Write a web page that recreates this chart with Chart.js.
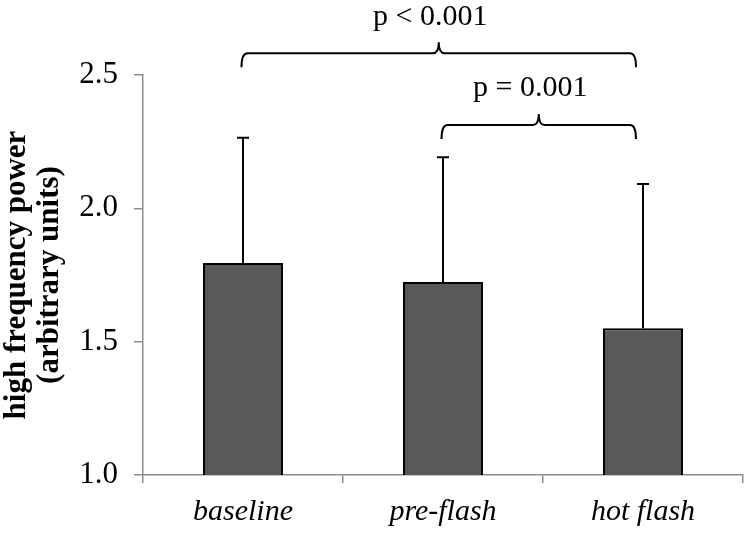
<!DOCTYPE html>
<html>
<head>
<meta charset="utf-8">
<script src="https://cdn.jsdelivr.net/npm/chart.js@4/dist/chart.umd.min.js"></script>
<style>
  html, body { margin: 0; padding: 0; background: #ffffff; }
  canvas { display: block; }
</style>
</head>
<body>
<canvas id="c" width="750" height="533"></canvas>
<script>
// ---- data ----
const categories = ['baseline', 'pre-flash', 'hot flash'];
const meanValues = [1.795, 1.724, 1.55];
const errorPlus = [0.470, 0.468, 0.541];
const yTickValues = [1.0, 1.5, 2.0, 2.5];
const yTitleLines = ['high frequency power', '(arbitrary units)'];
const bracketFrom = [0, 1];
const bracketTo = [2, 2];
const bracketLevel = [2.582, 2.3125];
const bracketLabels = ['p < 0.001', 'p = 0.001'];

const SERIF = '"Liberation Serif", "Times New Roman", serif';

const errorBarPlugin = {
  id: 'errorBars',
  afterDatasetsDraw(chart) {
    const ctx = chart.ctx;
    const meta = chart.getDatasetMeta(0);
    const y = chart.scales.y;
    ctx.save();
    ctx.strokeStyle = '#000000';
    ctx.lineWidth = 2;
    meta.data.forEach((bar, i) => {
      const x = bar.x;
      const yTop = y.getPixelForValue(meanValues[i] + errorPlus[i]);
      const yBase = y.getPixelForValue(meanValues[i]);
      ctx.beginPath();
      ctx.moveTo(x, yBase);
      ctx.lineTo(x, yTop);
      ctx.moveTo(x - 6, yTop);
      ctx.lineTo(x + 6, yTop);
      ctx.stroke();
    });
    ctx.restore();
  }
};

const bracketPlugin = {
  id: 'brackets',
  afterDraw(chart) {
    const ctx = chart.ctx;
    const xs = chart.scales.x;
    const ys = chart.scales.y;
    ctx.save();
    ctx.strokeStyle = '#000000';
    ctx.lineWidth = 2;
    ctx.fillStyle = '#000000';
    ctx.font = '30px ' + SERIF;
    ctx.textAlign = 'center';
    ctx.textBaseline = 'middle';
    bracketFrom.forEach((f, k) => {
      const x0 = xs.getPixelForValue(f) - 1.5;
      const x1 = xs.getPixelForValue(bracketTo[k]) - 7;
      const yl = ys.getPixelForValue(bracketLevel[k]);
      const mid = (x0 + x1) / 2;
      const drop = 14, rise = 11, r = 6;
      ctx.beginPath();
      ctx.moveTo(x0, yl + drop);
      ctx.quadraticCurveTo(x0, yl, x0 + r, yl);
      ctx.lineTo(mid - r, yl);
      ctx.quadraticCurveTo(mid, yl, mid, yl - rise);
      ctx.quadraticCurveTo(mid, yl, mid + r, yl);
      ctx.lineTo(x1 - r, yl);
      ctx.quadraticCurveTo(x1, yl, x1, yl + drop);
      ctx.stroke();
      ctx.fillText(bracketLabels[k], mid - 8.5, yl - 36.5);
    });
    ctx.restore();
  }
};

new Chart(document.getElementById('c'), {
  type: 'bar',
  data: {
    labels: categories,
    datasets: [{
      data: meanValues,
      backgroundColor: '#595959',
      borderColor: '#000000',
      borderWidth: 2,
      barPercentage: 0.8,
      categoryPercentage: 0.5
    }]
  },
  options: {
    responsive: false,
    animation: false,
    devicePixelRatio: 1,
    layout: { padding: { top: 75, right: 7, bottom: 0, left: 0 } },
    plugins: { legend: { display: false }, tooltip: { enabled: false } },
    scales: {
      x: {
        grid: { display: true, drawOnChartArea: false, drawTicks: true, tickLength: 8, color: '#8c8c8c', lineWidth: 1.5, offset: true },
        border: { display: true, color: '#8c8c8c', width: 1.5 },
        ticks: { color: '#000000', font: { family: SERIF, size: 30, style: 'italic' }, padding: 11 },
        afterFit(scale) { scale.height = 58; }
      },
      y: {
        min: 1.0,
        max: 2.5,
        afterBuildTicks(scale) { scale.ticks = yTickValues.map(v => ({ value: v })); },
        grid: { display: true, drawOnChartArea: false, drawTicks: true, tickLength: 9, color: '#8c8c8c', lineWidth: 1.5 },
        border: { display: true, color: '#8c8c8c', width: 1.5 },
        ticks: { color: '#000000', font: { family: SERIF, size: 31 }, padding: 16, callback: v => Number(v).toFixed(1) },
        title: {
          display: true,
          text: yTitleLines,
          color: '#000000',
          font: { family: SERIF, size: 31, weight: 'bold', lineHeight: 1.06 },
          padding: { top: 1, bottom: 0 }
        },
        afterFit(scale) { scale.width = 143; }
      }
    }
  },
  plugins: [errorBarPlugin, bracketPlugin]
});
</script>
</body>
</html>
